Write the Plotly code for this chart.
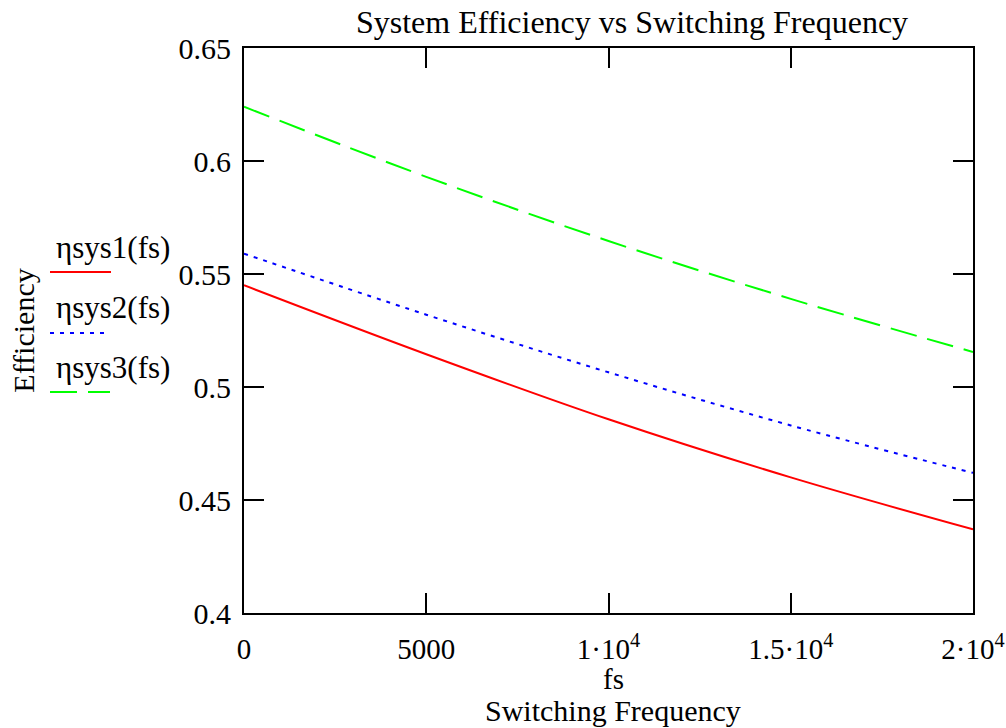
import plotly.graph_objects as go

fs = [0, 5000, 10000, 15000, 20000]
eta_sys1 = [0.545, 0.5145, 0.4857, 0.460, 0.437]
eta_sys2 = [0.559, 0.532, 0.5065, 0.483, 0.462]
eta_sys3 = [0.624, 0.593, 0.5646, 0.539, 0.5155]

x_tickvals = [0, 5000, 10000, 15000, 20000]
x_ticktext = ["0", "5000", "1\u00b710<sup>4</sup>", "1.5\u00b710<sup>4</sup>", "2\u00b710<sup>4</sup>"]
y_tickvals = [0.4, 0.45, 0.5, 0.55, 0.6, 0.65]
y_ticktext = ["0.4", "0.45", "0.5", "0.55", "0.6", "0.65"]

series_names = ["\u03b7sys1(fs)", "\u03b7sys2(fs)", "\u03b7sys3(fs)"]
series_colors = ["#FF0000", "#0000FF", "#00FF00"]
series_dash = ["solid", "4px,6px", "27px,11px"]
series_values = [eta_sys1, eta_sys2, eta_sys3]

FONT = "Liberation Serif"
L, R, T, B = 244, 33, 48, 115
W, H = 1006, 728
PW, PH = W - L - R, H - T - B

def px_x(px):
    return (px - L) / PW

def px_y(py):
    return (H - B - py) / PH

fig = go.Figure()
for name, col, dash, vals in zip(series_names, series_colors, series_dash, series_values):
    fig.add_trace(go.Scatter(x=fs, y=vals, mode="lines", name=name,
                             line=dict(color=col, width=2, dash=dash, shape="spline"),
                             showlegend=False))

# manual legend (text above line sample)
text_y = [247, 307, 367]
line_y = [272, 333, 392]
line_x1 = [111, 104, 110]
for name, col, dash, ty, ly, x1 in zip(series_names, series_colors, series_dash, text_y, line_y, line_x1):
    fig.add_annotation(x=px_x(54), y=px_y(ty), xref="paper", yref="paper", text=name,
                       showarrow=False, xanchor="left", yanchor="middle",
                       font=dict(family=FONT, size=31, color="black"))
    fig.add_shape(type="line", xref="paper", yref="paper",
                  x0=px_x(50), x1=px_x(x1), y0=px_y(ly), y1=px_y(ly),
                  line=dict(color=col, width=2, dash=dash))

# x axis title lines
fig.add_annotation(x=px_x(613), y=px_y(679), xref="paper", yref="paper", text="fs",
                   showarrow=False, xanchor="center", yanchor="middle",
                   font=dict(family=FONT, size=29, color="black"))
fig.add_annotation(x=px_x(613), y=px_y(710), xref="paper", yref="paper", text="Switching Frequency",
                   showarrow=False, xanchor="center", yanchor="middle",
                   font=dict(family=FONT, size=30, color="black"))

fig.update_layout(
    width=W, height=H,
    margin=dict(l=L, r=R, t=T, b=B, autoexpand=False),
    paper_bgcolor="white", plot_bgcolor="white",
    font=dict(family=FONT, size=30, color="black"),
    title=dict(text="System Efficiency vs Switching Frequency", x=632 / W, xref="container",
               xanchor="center", y=1 - 22 / H, yanchor="middle", font=dict(family=FONT, size=32)),
)
fig.update_xaxes(range=[0, 20000], tickvals=x_tickvals, ticktext=x_ticktext,
                 showgrid=False, zeroline=False, showline=True, linecolor="black", linewidth=2,
                 mirror="ticks", ticks="inside", ticklen=20, tickwidth=2, tickcolor="black",
                 tickfont=dict(family=FONT, size=29), ticklabelstandoff=9,
                 ticklabeloverflow="allow")
fig.update_yaxes(range=[0.4, 0.65], tickvals=y_tickvals, ticktext=y_ticktext,
                 showgrid=False, zeroline=False, showline=True, linecolor="black", linewidth=2,
                 mirror="ticks", ticks="inside", ticklen=20, tickwidth=2, tickcolor="black",
                 tickfont=dict(family=FONT, size=30), ticklabelstandoff=5,
                 title=dict(text="Efficiency", font=dict(family=FONT, size=30), standoff=135))

fig.write_html("out.html")
